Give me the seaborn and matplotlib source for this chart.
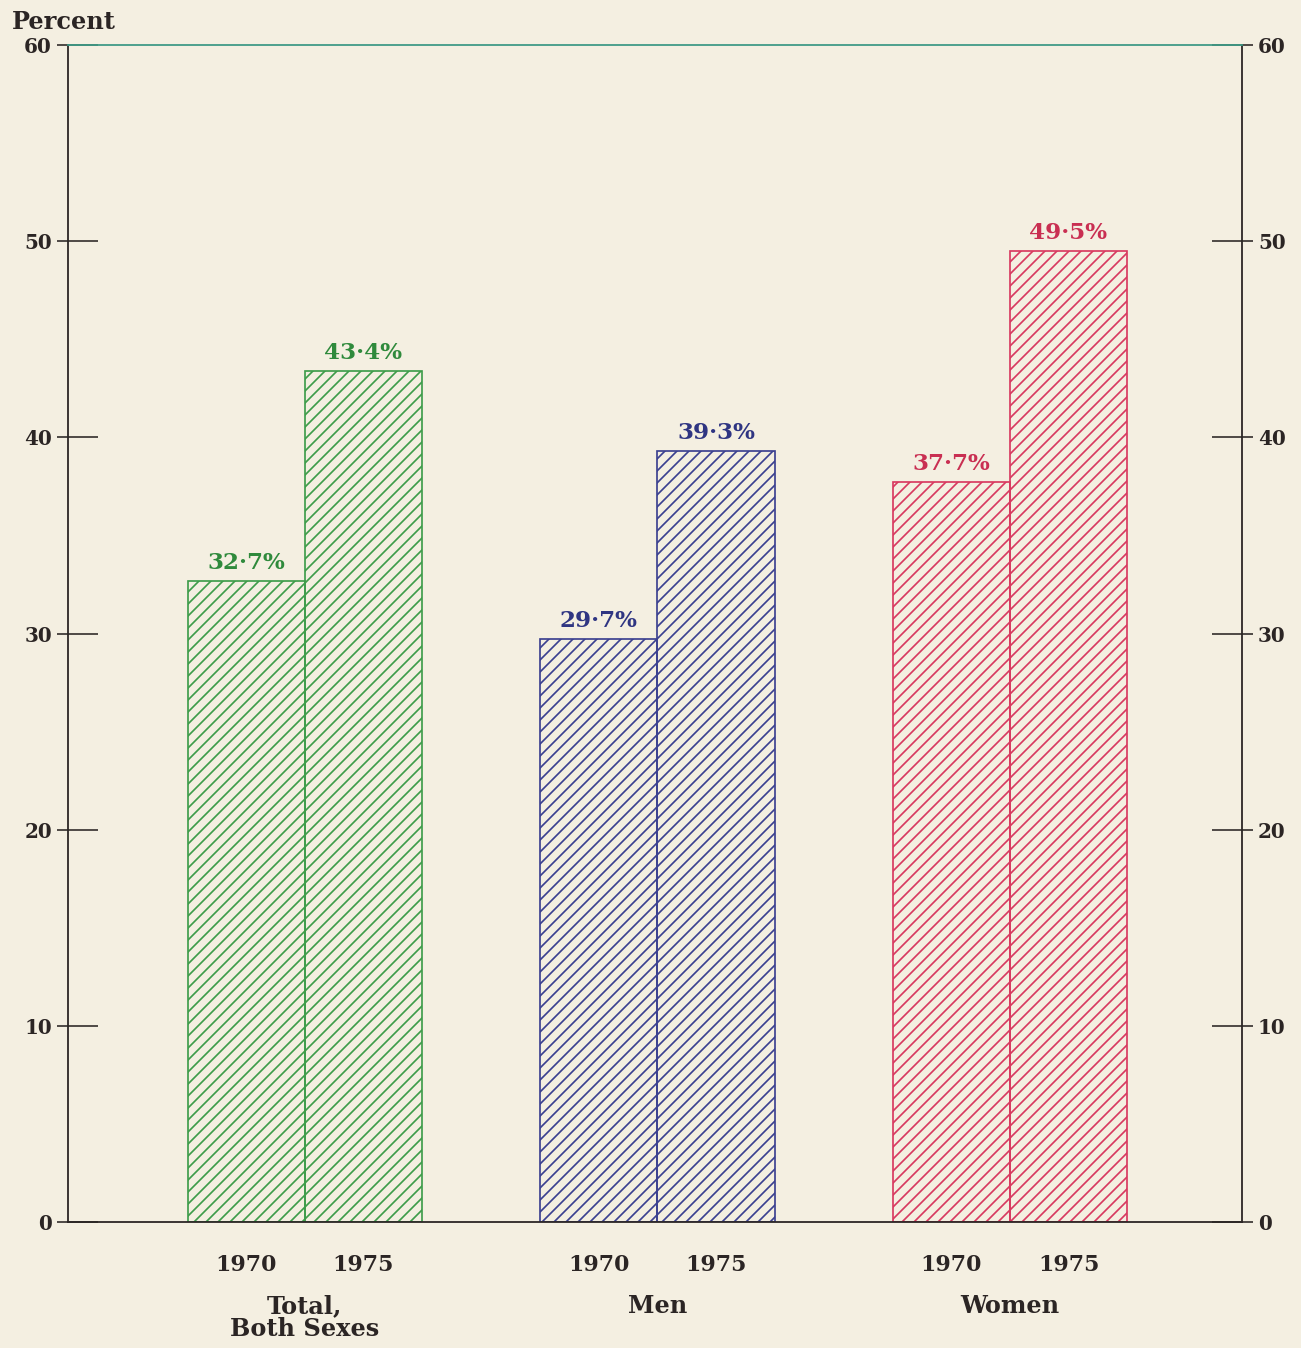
import numpy as np
import pandas as pd
import matplotlib
matplotlib.use("Agg")
import matplotlib.pyplot as plt
import seaborn as sns
from matplotlib.ticker import MultipleLocator

groups = ["Total,\nBoth Sexes", "Men", "Women"]
years = ["1970", "1975"]
values_1970 = [32.7, 29.7, 37.7]
values_1975 = [43.4, 39.3, 49.5]
value_labels_1970 = ["32·7%", "29·7%", "37·7%"]
value_labels_1975 = ["43·4%", "39·3%", "49·5%"]
edge_colors = ["#3e9c4a", "#3b4090", "#d8395f"]
text_colors = ["#2f8a3c", "#2f3582", "#c92f52"]
y_ticks = [0, 10, 20, 30, 40, 50, 60]

BG = "#f4efe1"
INK = "#2b2524"

df = pd.DataFrame({
    "group": groups * 2,
    "year": [years[0]] * 3 + [years[1]] * 3,
    "value": values_1970 + values_1975,
})
labels = value_labels_1970 + value_labels_1975

sns.set_theme(style="white")
plt.rcParams["font.family"] = ["DejaVu Serif"]
plt.rcParams["font.weight"] = "bold"
plt.rcParams["hatch.linewidth"] = 1.7

W, H, DPI = 1301, 1348, 72
fig = plt.figure(figsize=(W / DPI, H / DPI), dpi=DPI, facecolor=BG)
ax = fig.add_axes([68 / W, 1 - 1222 / H, (1242 - 68) / W, (1222 - 45) / H])
ax.set_facecolor(BG)

sns.barplot(data=df, x="group", y="value", hue="year", order=groups,
            hue_order=years, width=0.664, dodge=True, ax=ax, legend=False,
            errorbar=None)

bars = [p for p in ax.patches]
for i, p in enumerate(bars):
    g = i % 3
    p.set_facecolor("none")
    p.set_edgecolor(edge_colors[g])
    p.set_linewidth(1.7)
    p.set_hatch("//")
    cx = p.get_x() + p.get_width() / 2
    ax.annotate(labels[i], (cx, p.get_height()), xytext=(0, 7),
                textcoords="offset points", ha="center", va="bottom",
                fontsize=23, fontweight="bold", color=text_colors[g])
    yr = years[i // 3]
    ax.annotate(yr, (cx, 0), xytext=(0, -43), textcoords="offset points",
                ha="center", va="center", fontsize=22, fontweight="bold",
                color=INK, annotation_clip=False)

ax.set_xlim(-0.672, 2.658)
ax.set_ylim(0, 60)
ax.set_xlabel("")
ax.set_ylabel("")
ax.set_xticks(range(len(groups)))
ax.set_xticklabels(groups, fontsize=24, fontweight="bold", color=INK,
                   linespacing=0.95, va="top")
ax.tick_params(axis="x", length=0, pad=72)

ax.set_yticks(y_ticks)
ax.yaxis.set_minor_locator(MultipleLocator(10))
ax.yaxis.remove_overlapping_locs = False
ax.tick_params(axis="y", which="major", direction="in", length=30, width=1.6,
               color=INK, left=True, right=True, labelleft=True,
               labelright=True, labelsize=20, labelcolor=INK, pad=16)
ax.tick_params(axis="y", which="minor", direction="out", length=11, width=1.6,
               color=INK, left=True, right=True)
for t in ax.yaxis.get_major_ticks():
    for lab in (t.label1, t.label2):
        lab.set_fontweight("bold")
        lab.set_fontsize(20)
        lab.set_color(INK)

for side in ["left", "right", "bottom"]:
    ax.spines[side].set_color(INK)
    ax.spines[side].set_linewidth(1.8)
ax.spines["top"].set_color("#3f9a86")
ax.spines["top"].set_linewidth(1.8)

fig.text(12 / W, 1 - 22 / H, "Percent", fontsize=24, fontweight="bold",
         color=INK, ha="left", va="center")

fig.savefig("out.png", dpi=DPI, facecolor=BG)
